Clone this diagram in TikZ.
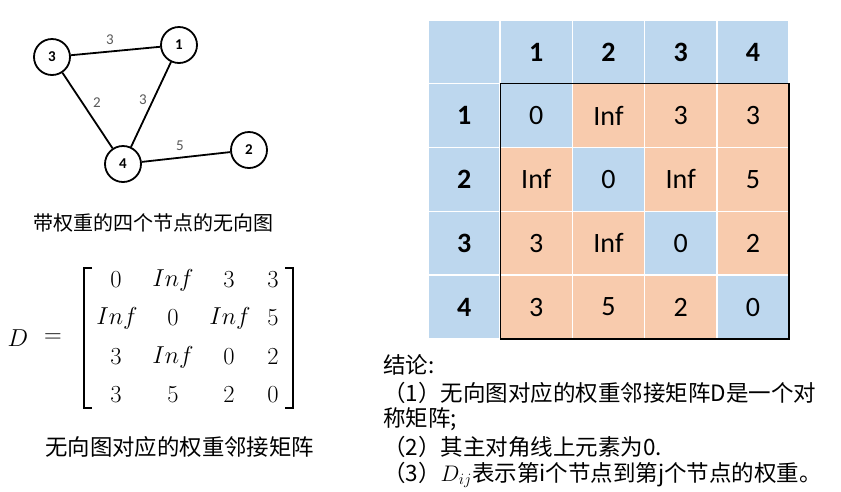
\documentclass[tikz,border=0pt]{standalone}
\usepackage{fix-cm}
\usepackage{fontspec}
\setmainfont{Carlito}
\newfontfamily\cjk{Noto Sans CJK SC}
\definecolor{cblue}{HTML}{BDD7EE}
\definecolor{corange}{HTML}{F8CBAD}
\begin{document}
\begin{tikzpicture}[x=1pt,y=-1pt,
  vtx/.style={circle,draw,line width=1.8pt,minimum size=36pt,inner sep=0pt,font=\fontsize{15}{15}\selectfont\bfseries},
  gedge/.style={line width=1.8pt},
  wlab/.style={text=black!65,inner sep=0pt,font=\fontsize{15}{15}\selectfont},
  cell/.style={draw=white,line width=1.5pt,minimum width=72.2pt,minimum height=63.9pt,inner sep=0pt,outer sep=0pt,font=\fontsize{28}{28}\selectfont},
  hcell/.style={cell,fill=cblue,font=\fontsize{28}{28}\selectfont\bfseries},
  bcell/.style={cell,fill=cblue},
  ocell/.style={cell,fill=corange},
  mx/.style={inner sep=0pt,font=\fontsize{24.5}{24.5}\selectfont},
  captxt/.style={inner sep=0pt,anchor=west,font=\cjk\fontsize{20}{20}\selectfont},
  concl/.style={inner sep=0pt,anchor=base west,font=\cjk\fontsize{22.5}{22.5}\selectfont},
  brk/.style={line width=1.3pt}
]
\useasboundingbox (0,0) rectangle (841,491);
\fill[white] (0,0) rectangle (841,491);

% ---- graph ----
\node[vtx] (n3) at (52,57) {3};
\node[vtx] (n1) at (179,45) {1};
\node[vtx] (n4) at (123,164) {4};
\node[vtx] (n2) at (249,150) {2};
\draw[gedge] (n3) -- (n1);
\draw[gedge] (n3) -- (n4);
\draw[gedge] (n1) -- (n4);
\draw[gedge] (n4) -- (n2);
\node[wlab] (w31) at (110,40) {3};
\node[wlab] (w34) at (97,103) {2};
\node[wlab] (w14) at (143,100) {3};
\node[wlab] (w42) at (180,146) {5};

\node[captxt] (cap1) at (33,223) {带权重的四个节点的无向图};

% ---- matrix ----
\node[mx] (mD) at (18,338) {$D$};
\node[mx] (meq) at (53,338) {$=$};
\node[mx] (m11) at (116,280) {$0$};
\node[mx] (m12) at (173,280) {$Inf$};
\node[mx] (m13) at (229,280) {$3$};
\node[mx] (m14) at (273,280) {$3$};
\node[mx] (m21) at (117,318) {$Inf$};
\node[mx] (m22) at (173,318) {$0$};
\node[mx] (m23) at (230,318) {$Inf$};
\node[mx] (m24) at (273,318) {$5$};
\node[mx] (m31) at (116,357) {$3$};
\node[mx] (m32) at (173,357) {$Inf$};
\node[mx] (m33) at (229,357) {$0$};
\node[mx] (m34) at (273,357) {$2$};
\node[mx] (m41) at (116,395) {$3$};
\node[mx] (m42) at (173,395) {$5$};
\node[mx] (m43) at (229,395) {$2$};
\node[mx] (m44) at (273,395) {$0$};
\draw[brk] (92,268) -- (84,268) -- (84,408) -- (92,408);
\draw[brk] (285,268) -- (293,268) -- (293,408) -- (285,408);

\node[captxt,font=\cjk\fontsize{22.4}{22.4}\selectfont] (cap2) at (45,447) {无向图对应的权重邻接矩阵};

% ---- table ----
\node[hcell] (t00) at (464.1,52.25) {};
\node[hcell] (t01) at (536.3,52.25) {1};
\node[hcell] (t02) at (608.5,52.25) {2};
\node[hcell] (t03) at (680.7,52.25) {3};
\node[hcell] (t04) at (752.9,52.25) {4};

\node[hcell] (t10) at (464.1,115.4) {1};
\node[bcell] (t11) at (536.3,115.4) {0};
\node[ocell] (t12) at (608.5,115.4) {Inf};
\node[ocell] (t13) at (680.7,115.4) {3};
\node[ocell] (t14) at (752.9,115.4) {3};

\node[hcell] (t20) at (464.1,179.3) {2};
\node[ocell] (t21) at (536.3,179.3) {Inf};
\node[bcell] (t22) at (608.5,179.3) {0};
\node[ocell] (t23) at (680.7,179.3) {Inf};
\node[ocell] (t24) at (752.9,179.3) {5};

\node[hcell] (t30) at (464.1,243.2) {3};
\node[ocell] (t31) at (536.3,243.2) {3};
\node[ocell] (t32) at (608.5,243.2) {Inf};
\node[bcell] (t33) at (680.7,243.2) {0};
\node[ocell] (t34) at (752.9,243.2) {2};

\node[hcell] (t40) at (464.1,307.1) {4};
\node[ocell] (t41) at (536.3,307.1) {3};
\node[ocell] (t42) at (608.5,307.1) {5};
\node[ocell] (t43) at (680.7,307.1) {2};
\node[bcell] (t44) at (752.9,307.1) {0};

\draw[line width=1.2pt] (t11.north west) rectangle (t44.south east);

% ---- conclusion ----
\node[concl] (c1) at (383,373) {结论:};
\node[concl] (c2) at (383,401) {（1）无向图对应的权重邻接矩阵D是一个对};
\node[concl] (c3) at (383,426) {称矩阵;};
\node[concl] (c4) at (383,455) {（2）其主对角线上元素为0.};
\node[concl] (c5) at (383,481) {（3）$D_{ij}$表示第i个节点到第j个节点的权重。};
\end{tikzpicture}
\end{document}
